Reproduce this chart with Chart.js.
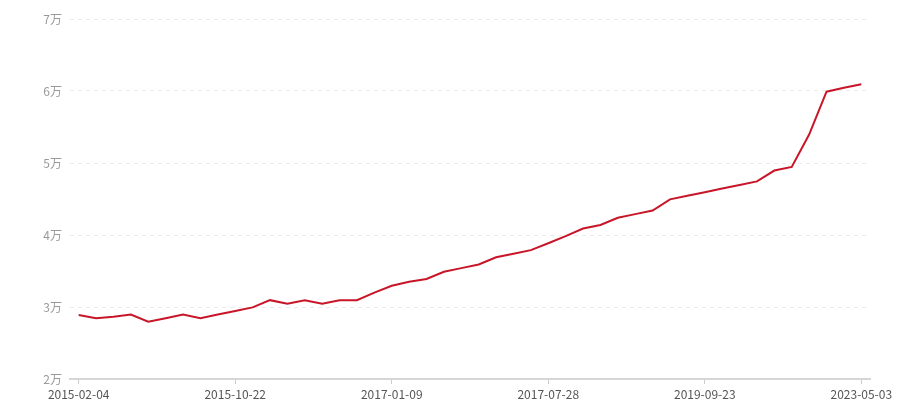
<!DOCTYPE html>
<html>
<head>
<meta charset="utf-8">
<script src="https://cdn.jsdelivr.net/npm/chart.js@4/dist/chart.umd.min.js"></script>
<style>
    html, body { margin: 0; padding: 0; background: #fff; }
    #wrap { width: 900px; height: 400px; position: relative; }
</style>
</head>
<body>
<div id="wrap"><canvas id="priceChart"></canvas></div>
<script>
// x labels: only every 9th is shown on the axis
const dates = [
    '2015-02-04', '', '', '', '', '', '', '', '',
    '2015-10-22', '', '', '', '', '', '', '', '',
    '2017-01-09', '', '', '', '', '', '', '', '',
    '2017-07-28', '', '', '', '', '', '', '', '',
    '2019-09-23', '', '', '', '', '', '', '', '',
    '2023-05-03'
];

const values = [
    28900, 28450, 28650, 28950, 27950, 28450, 28950, 28450, 28950,
    29450, 29950, 30950, 30450, 30950, 30450, 30950, 30950, 32000,
    32950, 33500, 33900, 34900, 35400, 35900, 36900, 37400, 37900,
    38850, 39850, 40900, 41400, 42400, 42900, 43400, 44950, 45450,
    45950, 46450, 46950, 47450, 48950, 49450, 53950, 59900, 60450,
    60950
];

const yTicks = [20000, 30000, 40000, 50000, 60000, 70000];

const FONT = '"Noto Sans CJK SC", "Noto Sans", sans-serif';

document.addEventListener('DOMContentLoaded', function () {
    const ctx = document.getElementById('priceChart').getContext('2d');

    new Chart(ctx, {
        type: 'line',
        data: {
            labels: dates,
            datasets: [{
                data: values,
                borderColor: 'rgb(200, 22, 40)',
                borderWidth: 2,
                pointRadius: 0,
                tension: 0,
                fill: false
            }]
        },
        options: {
            responsive: true,
            maintainAspectRatio: false,
            animation: false,
            layout: {
                padding: { top: 19, right: 30, bottom: 0, left: 0 }
            },
            plugins: {
                legend: { display: false },
                tooltip: { enabled: false }
            },
            scales: {
                x: {
                    offset: true,
                    grid: {
                        offset: false,
                        drawOnChartArea: false,
                        drawTicks: true,
                        tickLength: 5,
                        color: function (c) {
                            return (c.index % 9 === 0) ? '#cccccc' : 'rgba(0,0,0,0)';
                        }
                    },
                    border: { color: '#d6d6d6', width: 2 },
                    ticks: {
                        autoSkip: false,
                        maxRotation: 0,
                        minRotation: 0,
                        padding: 3,
                        color: '#555',
                        font: { family: FONT, size: 12 }
                    },
                    afterFit: function (scale) {
                        scale.height = 21;
                    }
                },
                y: {
                    min: 20000,
                    max: 70000,
                    afterBuildTicks: function (scale) {
                        scale.ticks = yTicks.map(v => ({ value: v }));
                    },
                    grid: {
                        color: '#ebebeb',
                        drawTicks: false,
                        lineWidth: 1
                    },
                    border: { display: false, dash: [4, 4] },
                    ticks: {
                        padding: 8,
                        color: '#9a9a9a',
                        font: { family: FONT, size: 12 },
                        callback: function (value) {
                            return (value / 10000) + '万';
                        }
                    },
                    afterFit: function (scale) {
                        scale.width = 70;
                    }
                }
            }
        }
    });
});
</script>
</body>
</html>
